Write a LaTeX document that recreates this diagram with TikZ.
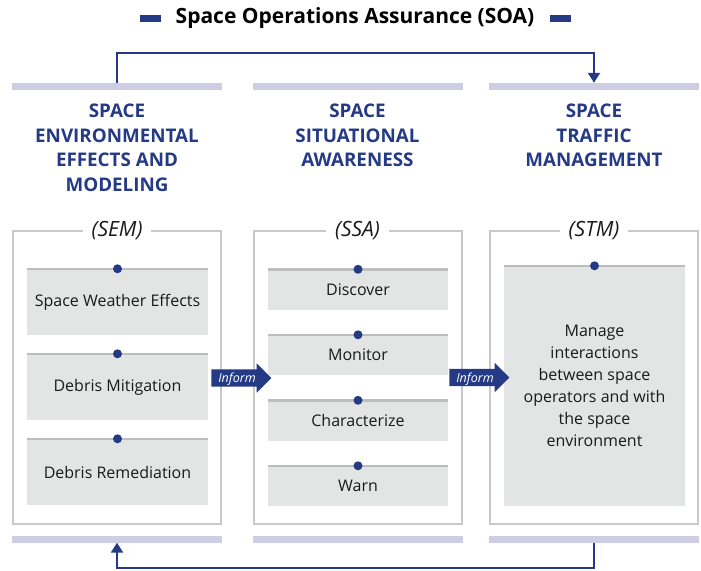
\documentclass[tikz,border=0pt]{standalone}
\usepackage{fontspec}
\setmainfont{Open Sans}
\usetikzlibrary{arrows.meta,shapes.arrows}
\definecolor{navy}{HTML}{243A84}
\definecolor{lav}{HTML}{CFCDE3}
\definecolor{framegray}{HTML}{C9C9C9}
\definecolor{cellgray}{HTML}{E3E4E4}
\definecolor{celltop}{HTML}{BDBDBD}
\definecolor{ink}{HTML}{1A1A1A}
\begin{document}
\begin{tikzpicture}[x=1pt,y=-1pt,
	tick/.style={fill=navy,minimum width=21pt,minimum height=7pt,inner sep=0pt},
	bar/.style={fill=lav,minimum width=210pt,minimum height=7pt,inner sep=0pt},
	heading/.style={anchor=north,inner sep=0pt,align=center,text=navy,font=\bfseries\fontsize{18.8}{24.7}\selectfont},
	frame/.style={draw=framegray,line width=2pt,minimum width=208pt,minimum height=293pt,inner sep=0pt},
	tag/.style={fill=white,inner xsep=9pt,inner ysep=2pt,text=ink,font=\itshape\fontsize{21}{24}\selectfont},
	cell/.style={fill=cellgray,minimum width=181pt,inner sep=0pt,text=ink,font=\fontsize{16}{22}\selectfont,align=center},
	flow/.style={draw=navy,line width=2pt,-{Triangle[length=10pt,width=12pt]}},
	inform/.style={single arrow,fill=navy,text=white,font=\itshape\fontsize{12.5}{12}\selectfont,minimum height=60pt,single arrow head extend=6pt,inner ysep=4pt,inner xsep=1pt,text height=9pt,text depth=0pt}]
	\useasboundingbox (0,0) rectangle (701,570);
	\node[font=\bfseries\fontsize{21}{24}\selectfont] (soa) at (355,18) {Space Operations Assurance (SOA)};
	\node[tick] (tickL) at (150.5,18.5) {};
	\node[tick] (tickR) at (560.5,18.5) {};
	\foreach \n/\x in {sem/117,ssa/357.5,stm/594}{
		\node[bar] (\n-top) at (\x,86.5) {};
		\node[bar] (\n-bot) at (\x,539) {};
		\node[frame] (\n-box) at (\x,377.5) {};
	}
	\node[heading] (semhead) at (117,103.5) {SPACE\\ENVIRONMENTAL\\EFFECTS AND\\MODELING};
	\node[heading] (ssahead) at (357.5,103.5) {SPACE\\SITUATIONAL\\AWARENESS};
	\node[heading] (stmhead) at (594,103.5) {SPACE\\TRAFFIC\\MANAGEMENT};
	\node[tag] (semtag) at (117,231) {(SEM)};
	\node[tag] (ssatag) at (357.5,231) {(SSA)};
	\node[tag] (stmtag) at (594,231) {(STM)};
	\foreach \t [count=\i] in {Space Weather Effects,Debris Mitigation,Debris Remediation}
		\node[cell,minimum height=66pt] (sem\i) at (117.5,{302+85*(\i-1)}) {\t};
	\foreach \t [count=\i] in {Discover,Monitor,Characterize,Warn}
		\node[cell,minimum width=180pt,minimum height=40pt] (ssa\i) at (358,{289.5+65.5*(\i-1)}) {\t};
	\node[cell,minimum height=240pt] (stm1) at (594.5,386) {Manage\\interactions\\between space\\operators and with\\the space\\environment};
	\foreach \c in {sem1,sem2,sem3,ssa1,ssa2,ssa3,ssa4,stm1}{
		\draw[celltop,line width=2.5pt] (\c.north west)--(\c.north east);
		\fill[navy] (\c.north) circle(4.5pt);
	}
	\node[inform] (inform1) at (237,378) {Inform};
	\node[inform] (inform2) at (475,377.5) {Inform};
	\draw[flow] (sem-top.north) -- ++(0,-30) -| (stm-top.north);
	\draw[flow] (stm-bot.south) -- ++(0,25) -| (sem-bot.south);
\end{tikzpicture}
\end{document}
